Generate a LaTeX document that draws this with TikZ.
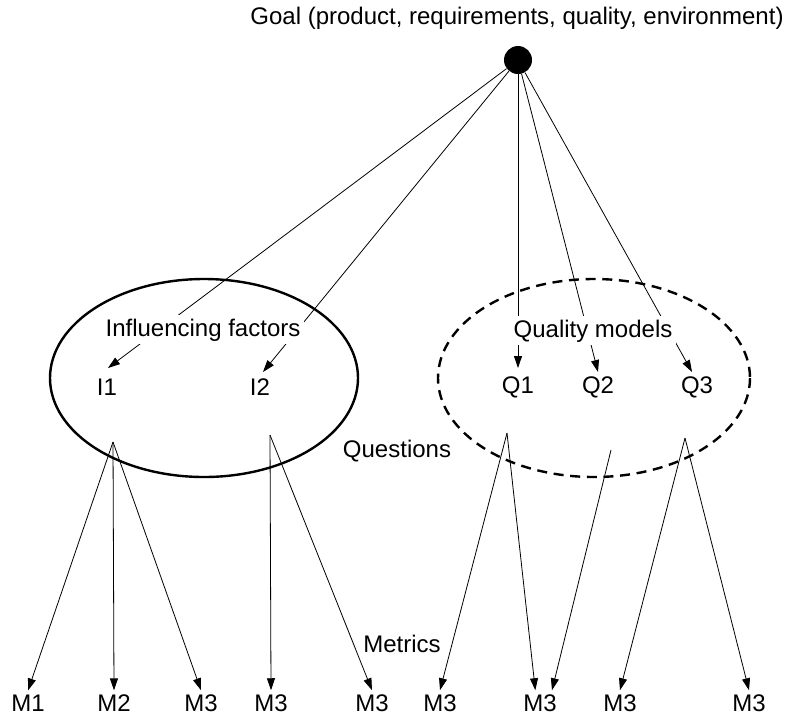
\documentclass[tikz,border=0pt]{standalone}
\usepackage{fontspec}
\setmainfont{Liberation Sans}
\usetikzlibrary{arrows.meta,backgrounds}

\begin{document}
\begin{tikzpicture}[x=0.75pt,y=-0.75pt,
  txt/.style={font=\fontsize{18pt}{21pt}\selectfont, inner sep=2pt},
  metric/.style={txt, inner sep=3pt},
  boxed/.style={txt, fill=white, inner sep=2.5pt},
  link/.style={line width=0.6pt},
  flow/.style={link, -{Triangle[length=9pt,width=6pt]}},
  group/.style={line width=1.8pt},
  groupdash/.style={group, dash pattern=on 7.5pt off 5pt}]

  \useasboundingbox (0,0) rectangle (792,719);

  % goal
  \node[txt, anchor=base] (goaltext) at (517,24)
    {Goal (product, requirements, quality, environment)};
  \node[circle, fill=black, inner sep=0pt, minimum size=21pt] (goal) at (518,60) {};

  % groups of influencing factors and quality models
  \draw[group] (204,378) ellipse [x radius=154, y radius=99];
  \draw[groupdash] (594,378) ellipse [x radius=156, y radius=99];

  % questions
  \node[txt] (i1) at (107,387) {I1};
  \node[txt] (i2) at (260,387) {I2};
  \node[txt] (q1) at (518,387) {Q1};
  \node[txt] (q2) at (598,387) {Q2};
  \node[txt] (q3) at (697,387) {Q3};

  % where the goal arrows arrive and the metric arrows leave
  \coordinate (i1in) at (108,368);
  \coordinate (i2in) at (263,372);
  \coordinate (q1in) at (518,368);
  \coordinate (q2in) at (598,372);
  \coordinate (q3in) at (692,372);
  \coordinate (i1out) at (113,442);
  \coordinate (i2out) at (270,435);
  \coordinate (q1out) at (507,433);
  \coordinate (q2out) at (611,450);
  \coordinate (q3out) at (685,438);

  % metrics
  \node[metric] (m1) at (28,703) {M1};
  \node[metric] (m2) at (114,703) {M2};
  \node[metric] (m3) at (201,703) {M3};
  \node[metric] (m4) at (271,703) {M3};
  \node[metric] (m5) at (372,703) {M3};
  \node[metric] (m6) at (440,703) {M3};
  \node[metric] (m7) at (540,703) {M3};
  \node[metric] (m8) at (620,703) {M3};
  \node[metric] (m9) at (749,703) {M3};

  % level labels
  \node[txt, anchor=base] (questions) at (397,457) {Questions};
  \node[txt, anchor=base] (metrics) at (402,652) {Metrics};

  \begin{pgfonlayer}{background}
    \draw[flow] (goal) -- (i1in);
    \draw[flow] (goal) -- (i2in);
    \draw[flow] (goal) -- (q1in);
    \draw[flow] (goal) -- (q2in);
    \draw[flow] (goal) -- (q3in);

    \draw[flow] (i1out) -- (m1.north);
    \draw[flow] (i1out) -- (m2.north);
    \draw[flow] (i1out) -- (m3.north);
    \draw[flow] (i2out) -- (m4.north);
    \draw[flow] (i2out) -- (m5.north);
    \draw[flow] (q1out) -- (m6.north);
    \draw[flow] (q1out) -- ([xshift=-3.5pt]m7.north);
    \draw[flow] (q2out) -- ([xshift=9pt]m7.north);
    \draw[flow] (q3out) -- (m8.north);
    \draw[flow] (q3out) -- (m9.north);
  \end{pgfonlayer}

  % group titles sit on top of the goal arrows
  \node[boxed, anchor=base] (inftitle) at (203,336) {Influencing factors};
  \node[boxed, anchor=base] (qualtitle) at (593,337) {Quality models};
\end{tikzpicture}
\end{document}
